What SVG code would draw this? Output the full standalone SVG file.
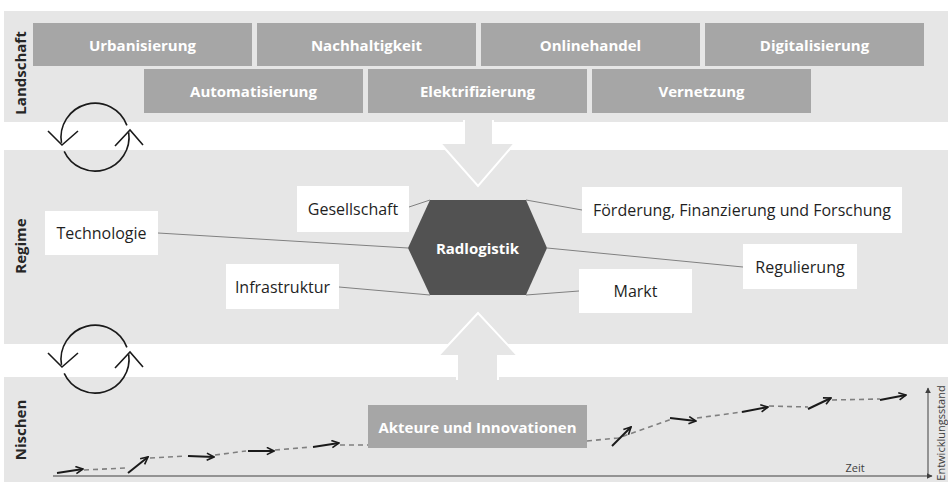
<svg xmlns="http://www.w3.org/2000/svg" width="948" height="482" viewBox="0 0 948 482">
<style>
.band{fill:#e6e6e6}
.lbox{fill:#a6a6a6}
.ltxt{font-family:"Open Sans","Liberation Sans",sans-serif;font-weight:bold;font-size:15px;fill:#ffffff;text-anchor:middle;dominant-baseline:central}
.side{font-family:"Open Sans","Liberation Sans",sans-serif;font-weight:bold;font-size:15px;fill:#262626;text-anchor:middle;dominant-baseline:central}
.rbox{fill:#ffffff}
.rtxt{font-family:"Open Sans","Liberation Sans",sans-serif;font-size:16px;fill:#1f1f1f;text-anchor:middle;dominant-baseline:central}
.conn{stroke:#808080;stroke-width:1;fill:none}
.bigarrow{fill:#e6e6e6;stroke:#ffffff;stroke-width:2}
.cyc{stroke:#1a1a1a;stroke-width:1.6;fill:none}
.dash{stroke:#808080;stroke-width:1.6;fill:none;stroke-dasharray:5 4}
.step{stroke:#1a1a1a;stroke-width:2;fill:none;marker-end:url(#open)}
.axis{stroke:#404040;stroke-width:1;fill:none}
.small{font-family:"Open Sans","Liberation Sans",sans-serif;font-size:11px;fill:#404040;text-anchor:middle;dominant-baseline:central}
</style>
<defs>
<marker id="open" viewBox="0 0 10 10" refX="9" refY="5" markerWidth="9" markerHeight="9" markerUnits="userSpaceOnUse" orient="auto">
<path d="M1,1 L9,5 L1,9" fill="none" stroke="#1a1a1a" stroke-width="1.8"/>
</marker>
<marker id="tri" viewBox="0 0 10 10" refX="9" refY="5" markerWidth="6" markerHeight="6" markerUnits="userSpaceOnUse" orient="auto">
<path d="M0,0 L10,5 L0,10 Z" fill="#404040"/>
</marker>
</defs>

<!-- bands -->
<rect class="band" x="4" y="11" width="944" height="111"/>
<rect class="band" x="4" y="150" width="944" height="194"/>
<rect class="band" x="4" y="377" width="944" height="105"/>

<!-- big arrows -->
<path class="bigarrow" d="M464,120 L464,143 L440,143 L478,186 L515,143 L493,143 L493,120"/>
<path class="bigarrow" d="M457,380 L457,356 L438,356 L478,313 L518,356 L498,356 L498,380"/>

<!-- side labels -->
<text class="side" transform="translate(20,73) rotate(-90)">Landschaft</text>
<text class="side" transform="translate(20,246) rotate(-90)">Regime</text>
<text class="side" transform="translate(20,430) rotate(-90)">Nischen</text>

<!-- cycle arrows -->
<g id="cycle1">
<path class="cyc" d="M126.9,125.4 A34,34 0 0 0 61.5,142.9"/>
<path class="cyc" d="M48,131 L62,145 L78,131"/>
<path class="cyc" d="M64.2,151.4 A34,34 0 0 0 128.7,132.3"/>
<path class="cyc" d="M115,146 L130,130 L143,145"/>
</g>
<g id="cycle2">
<path class="cyc" d="M126.9,347.4 A34,34 0 0 0 61.5,364.9"/>
<path class="cyc" d="M48,353 L62,367 L78,353"/>
<path class="cyc" d="M64.2,373.4 A34,34 0 0 0 128.7,354.3"/>
<path class="cyc" d="M115,368 L130,352 L143,367"/>
</g>

<!-- Landschaft boxes -->
<g id="urbanisierung"><rect class="lbox" x="33" y="23" width="219" height="43"/><text class="ltxt" x="142.5" y="44.5">Urbanisierung</text></g>
<g id="nachhaltigkeit"><rect class="lbox" x="257" y="23" width="219" height="43"/><text class="ltxt" x="366.5" y="44.5">Nachhaltigkeit</text></g>
<g id="onlinehandel"><rect class="lbox" x="481" y="23" width="219" height="43"/><text class="ltxt" x="590.5" y="44.5">Onlinehandel</text></g>
<g id="digitalisierung"><rect class="lbox" x="705" y="23" width="219" height="43"/><text class="ltxt" x="814.5" y="44.5">Digitalisierung</text></g>
<g id="automatisierung"><rect class="lbox" x="144" y="69" width="219" height="44"/><text class="ltxt" x="253.5" y="91">Automatisierung</text></g>
<g id="elektrifizierung"><rect class="lbox" x="368" y="69" width="219" height="44"/><text class="ltxt" x="477.5" y="91">Elektrifizierung</text></g>
<g id="vernetzung"><rect class="lbox" x="592" y="69" width="219" height="44"/><text class="ltxt" x="701.5" y="91">Vernetzung</text></g>

<!-- connectors -->
<g id="connectors">
<line class="conn" x1="158" y1="233" x2="408" y2="248"/>
<line class="conn" x1="409" y1="207" x2="430" y2="200"/>
<line class="conn" x1="339" y1="287" x2="430" y2="295"/>
<line class="conn" x1="526" y1="200" x2="582" y2="210"/>
<line class="conn" x1="547" y1="248" x2="743" y2="267"/>
<line class="conn" x1="526" y1="295" x2="579" y2="291"/>
</g>

<!-- Regime nodes -->
<g id="radlogistik"><polygon points="408,248 430,200 526,200 547,248 526,295 430,295" fill="#525252"/><text class="ltxt" x="477.5" y="248">Radlogistik</text></g>
<g id="technologie"><rect class="rbox" x="45" y="211" width="113" height="44"/><text class="rtxt" x="101.5" y="233">Technologie</text></g>
<g id="gesellschaft"><rect class="rbox" x="297" y="186" width="112" height="46"/><text class="rtxt" x="353" y="209">Gesellschaft</text></g>
<g id="infrastruktur"><rect class="rbox" x="226" y="264" width="113" height="45"/><text class="rtxt" x="282.5" y="286.5">Infrastruktur</text></g>
<g id="foerderung"><rect class="rbox" x="582" y="187" width="320" height="46"/><text class="rtxt" x="742" y="210">Förderung, Finanzierung und Forschung</text></g>
<g id="regulierung"><rect class="rbox" x="743" y="244" width="114" height="45"/><text class="rtxt" x="800" y="266.5">Regulierung</text></g>
<g id="markt"><rect class="rbox" x="579" y="269" width="113" height="44"/><text class="rtxt" x="635.5" y="291">Markt</text></g>

<!-- Nischen -->
<g id="axes">
<line class="axis" x1="53" y1="476" x2="932" y2="476" marker-end="url(#tri)"/>
<line class="axis" x1="928" y1="476" x2="928" y2="388" marker-end="url(#tri)"/>
<text class="small" x="855" y="467">Zeit</text>
<text class="small" transform="translate(940,433) rotate(-90)">Entwicklungsstand</text>
</g>
<g id="trajectory">
<line class="dash" x1="84" y1="470" x2="126" y2="468"/>
<line class="dash" x1="150" y1="458" x2="186" y2="456"/>
<line class="dash" x1="215" y1="455" x2="246" y2="451"/>
<line class="dash" x1="275" y1="450" x2="311" y2="447"/>
<line class="dash" x1="340" y1="445" x2="368" y2="445"/>
<polyline class="dash" points="587,441 618,438 672,419"/>
<line class="dash" x1="697" y1="418" x2="742" y2="412"/>
<line class="dash" x1="769" y1="406" x2="808" y2="407"/>
<line class="dash" x1="832" y1="400" x2="880" y2="399"/>
<line class="step" x1="57" y1="473" x2="83" y2="469"/>
<line class="step" x1="128" y1="473" x2="148" y2="457"/>
<line class="step" x1="188" y1="456" x2="214" y2="457"/>
<line class="step" x1="248" y1="451" x2="274" y2="451"/>
<line class="step" x1="313" y1="447" x2="339" y2="443"/>
<line class="step" x1="612" y1="446" x2="631" y2="427"/>
<line class="step" x1="670" y1="418" x2="696" y2="421"/>
<line class="step" x1="742" y1="412" x2="768" y2="407"/>
<line class="step" x1="808" y1="409" x2="831" y2="398"/>
<line class="step" x1="880" y1="400" x2="906" y2="395"/>
</g>
<g id="akteure"><rect class="lbox" x="368" y="405" width="219" height="43"/><text class="ltxt" x="477.5" y="426.5">Akteure und Innovationen</text></g>
</svg>
